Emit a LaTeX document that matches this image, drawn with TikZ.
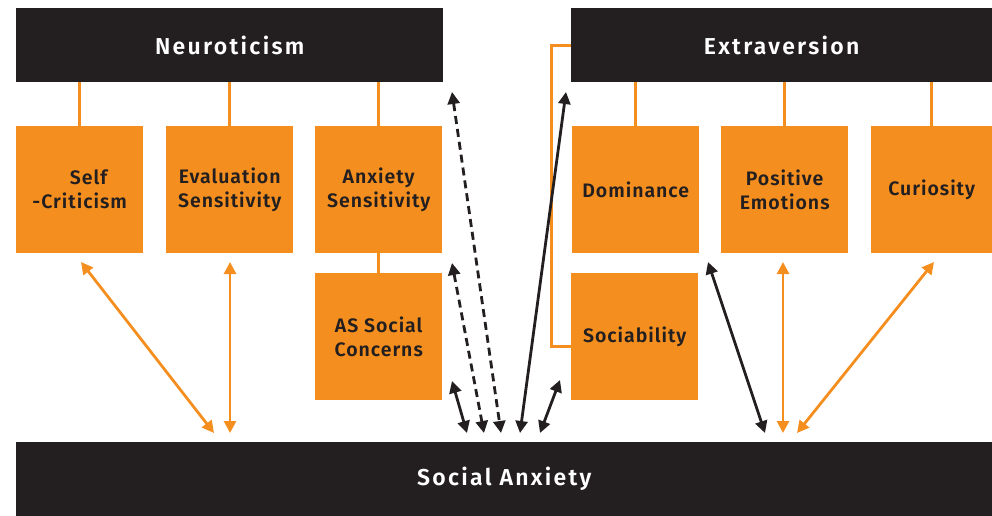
\documentclass[tikz,border=0pt]{standalone}
\usepackage{fontspec}
\setmainfont{Fira Sans}[BoldFont={* SemiBold}]
\usetikzlibrary{arrows.meta, positioning}
\definecolor{traitblack}{HTML}{231F20}
\definecolor{facetorange}{HTML}{F48F1F}

\tikzset{
  trait/.style={fill=traitblack, text=white, inner sep=0pt, anchor=north west,
    font=\fontsize{23}{26}\selectfont\bfseries\addfontfeatures{LetterSpace=10}},
  facet/.style={fill=facetorange, text=traitblack, inner sep=0pt, anchor=north west,
    minimum width=127pt, minimum height=127pt, align=center,
    font=\fontsize{19.5}{24}\selectfont\bfseries\addfontfeatures{LetterSpace=5}},
  link/.style={facetorange, line width=3pt},
  assoc/.style={line width=2.8pt, {Triangle[length=12pt,width=12pt]}-{Triangle[length=12pt,width=12pt]}},
}

\begin{document}
\begin{tikzpicture}[x=1pt, y=-1pt]
  \useasboundingbox (0,0) rectangle (992,516);

  % the two traits and the outcome
  \node[trait, minimum width=427pt, minimum height=74pt] (neuro) at (16,8) {Neuroticism};
  \node[trait, minimum width=421pt, minimum height=74pt] (extra) at (571,8) {Extraversion};
  \node[trait, minimum width=976pt, minimum height=74pt] (sa) at (16,442) {Social Anxiety};

  % facets of neuroticism
  \node[facet] (selfcrit) at (16,126) {\hspace*{0.9em}Self\\-Criticism};
  \node[facet] (evalsens) at (166,126) {Evaluation\\Sensitivity};
  \node[facet] (anxsens) at (315,126) {Anxiety\\Sensitivity};
  \node[facet] (assocc) at (315,273) {AS Social\\Concerns};

  % facets of extraversion
  \node[facet] (domin) at (572,126) {Dominance};
  \node[facet] (posemo) at (721,126) {Positive\\Emotions};
  \node[facet, minimum width=121pt] (curio) at (871,126) {Curiosity};
  \node[facet] (sociab) at (571,273) {Sociability};

  % hierarchy lines
  \draw[link] (neuro.south -| selfcrit.north) -- (selfcrit.north);
  \draw[link] (neuro.south -| evalsens.north) -- (evalsens.north);
  \draw[link] (neuro.south -| anxsens.north) -- (anxsens.north);
  \draw[link] (anxsens.south) -- (assocc.north);
  \draw[link] (extra.south -| domin.north) -- (domin.north);
  \draw[link] (extra.south -| posemo.north) -- (posemo.north);
  \draw[link] (extra.south -| curio.north) -- (curio.north);
  \draw[link] (extra.west) -- ++(-20,0) |- ([yshift=-10pt]sociab.west);

  % arrow ends
  \coordinate (sc-a) at (81,262);   \coordinate (sc-b) at (214,433);
  \coordinate (es-a) at (230,262);  \coordinate (es-b) at (230,433);
  \coordinate (as-a) at (452,381);  \coordinate (as-b) at (467,433);
  \coordinate (ax-a) at (452,263);  \coordinate (ax-b) at (484,433);
  \coordinate (ne-a) at (452,92);   \coordinate (ne-b) at (501,433);
  \coordinate (ex-a) at (566,92);   \coordinate (ex-b) at (520,433);
  \coordinate (so-a) at (560,380);  \coordinate (so-b) at (540,433);
  \coordinate (do-a) at (708,262);  \coordinate (do-b) at (765,433);
  \coordinate (pe-a) at (783,262);  \coordinate (pe-b) at (783,433);
  \coordinate (cu-a) at (934,262);  \coordinate (cu-b) at (797,433);

  % associations with social anxiety
  \draw[assoc, facetorange] (sc-a) -- (sc-b);
  \draw[assoc, facetorange] (es-a) -- (es-b);
  \draw[assoc, traitblack] (as-a) -- (as-b);
  \draw[assoc, traitblack, dash pattern=on 8pt off 5pt] (ax-a) -- (ax-b);
  \draw[assoc, traitblack, dash pattern=on 8pt off 5pt] (ne-a) -- (ne-b);
  \draw[assoc, traitblack] (ex-a) -- (ex-b);
  \draw[assoc, traitblack] (so-a) -- (so-b);
  \draw[assoc, traitblack] (do-a) -- (do-b);
  \draw[assoc, facetorange] (pe-a) -- (pe-b);
  \draw[assoc, facetorange] (cu-a) -- (cu-b);
\end{tikzpicture}
\end{document}
